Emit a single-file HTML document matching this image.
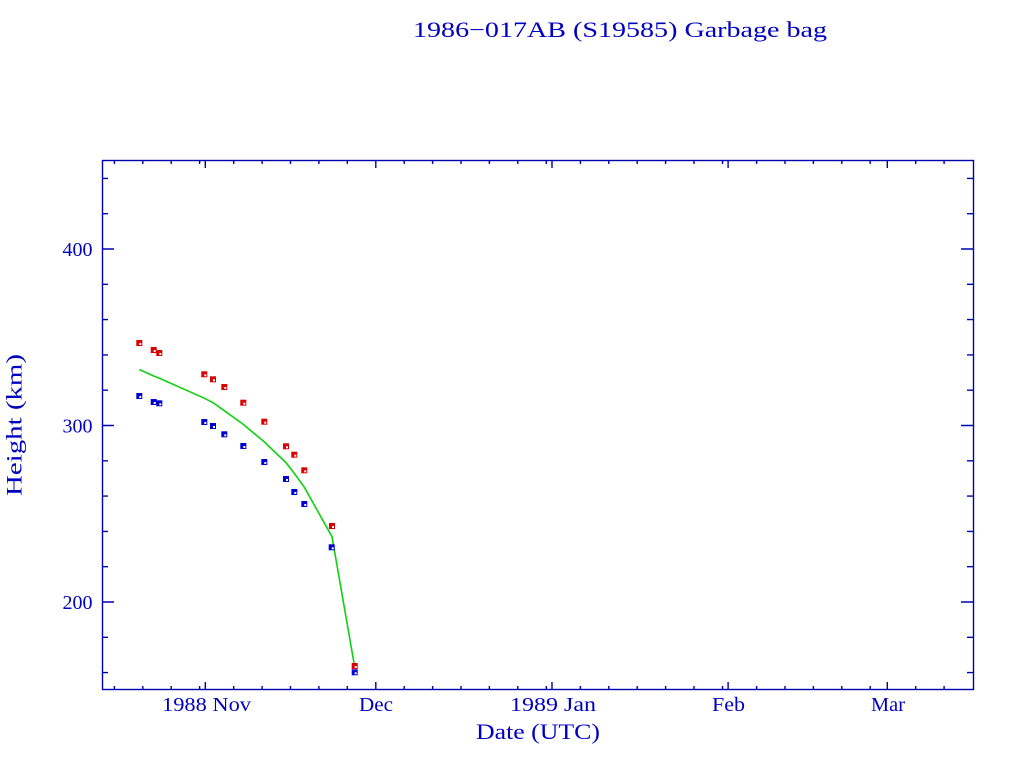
<!DOCTYPE html>
<html><head><meta charset="utf-8"><style>
html,body{margin:0;padding:0;background:#fff;}
svg{display:block;}
text{font-family:"Liberation Serif",serif;fill:#0000c0;}
</style></head><body>
<svg width="1024" height="768" viewBox="0 0 1024 768" xmlns="http://www.w3.org/2000/svg">
<rect width="1024" height="768" fill="#fff"/>
<text x="413" y="37" font-size="22" textLength="414" lengthAdjust="spacingAndGlyphs">1986−017AB (S19585) Garbage bag</text>

<g stroke="#0000b0" stroke-width="1.4" fill="none">
<rect x="102.5" y="160.5" width="871" height="529"/>
<path d="
M102 178.4h6M102 213.7h6M102 249h12M102 284.3h6M102 319.6h6M102 354.9h6M102 390.2h6M102 425.5h12M102 460.8h6M102 496.1h6M102 531.4h6M102 566.7h6M102 602h12M102 637.3h6M102 672.6h6
M973 178.4h-6M973 213.7h-6M973 249h-12M973 284.3h-6M973 319.6h-6M973 354.9h-6M973 390.2h-6M973 425.5h-12M973 460.8h-6M973 496.1h-6M973 531.4h-6M973 566.7h-6M973 602h-12M973 637.3h-6M973 672.6h-6
"/>
<path d="
M114.4 690v-4M142.8 690v-4M171.2 690v-4M199.6 690v-4M205.3 690v-8M233.7 690v-4M262.1 690v-4M290.5 690v-4M318.9 690v-4M347.3 690v-4M375.8 690v-8M404.2 690v-4M432.6 690v-4M461.0 690v-4M489.4 690v-4M517.8 690v-4M546.3 690v-4M552.0 690v-8M580.4 690v-4M608.8 690v-4M637.2 690v-4M665.6 690v-4M694.0 690v-4M722.5 690v-4M728.1 690v-8M756.6 690v-4M785.0 690v-4M813.4 690v-4M841.8 690v-4M870.2 690v-4M887.3 690v-8M915.7 690v-4M944.1 690v-4
M114.4 160v4M142.8 160v4M171.2 160v4M199.6 160v4M205.3 160v8M233.7 160v4M262.1 160v4M290.5 160v4M318.9 160v4M347.3 160v4M375.8 160v8M404.2 160v4M432.6 160v4M461.0 160v4M489.4 160v4M517.8 160v4M546.3 160v4M552.0 160v8M580.4 160v4M608.8 160v4M637.2 160v4M665.6 160v4M694.0 160v4M722.5 160v4M728.1 160v8M756.6 160v4M785.0 160v4M813.4 160v4M841.8 160v4M870.2 160v4M887.3 160v8M915.7 160v4M944.1 160v4
"/>
</g>

<g font-size="20">
<text x="92.5" y="256" text-anchor="end">400</text>
<text x="92.5" y="432.5" text-anchor="end">300</text>
<text x="92.5" y="609" text-anchor="end">200</text>
<text x="162" y="711" textLength="89" lengthAdjust="spacingAndGlyphs">1988 Nov</text>
<text x="359" y="711" textLength="34" lengthAdjust="spacingAndGlyphs">Dec</text>
<text x="510" y="711" textLength="86" lengthAdjust="spacingAndGlyphs">1989 Jan</text>
<text x="712" y="711" textLength="33" lengthAdjust="spacingAndGlyphs">Feb</text>
<text x="871" y="711" textLength="34" lengthAdjust="spacingAndGlyphs">Mar</text>
</g>
<text x="476" y="739" font-size="22" textLength="124" lengthAdjust="spacingAndGlyphs">Date (UTC)</text>
<text transform="translate(21.5,496) rotate(-90)" x="0" y="0" font-size="22" textLength="142" lengthAdjust="spacingAndGlyphs">Height (km)</text>

<polyline fill="none" stroke="#10d010" stroke-width="1.6" points="139.3,369.5 153.7,376 159.3,378.2 204.3,398.2 213,402.7 224.3,410.7 243.3,424.4 264.3,441.9 286,462.7 294.3,473.4 304.3,487.2 332,536.7 354.7,667"/>

<g fill="#dd0000">
<rect x="136.3" y="340" width="6" height="6"/>
<rect x="150.7" y="347" width="6" height="6"/>
<rect x="156.3" y="350" width="6" height="6"/>
<rect x="201.3" y="371.3" width="6" height="6"/>
<rect x="210" y="376.3" width="6" height="6"/>
<rect x="221.3" y="384" width="6" height="6"/>
<rect x="240.3" y="399.7" width="6" height="6"/>
<rect x="261.3" y="418.7" width="6" height="6"/>
<rect x="283" y="443.3" width="6" height="6"/>
<rect x="291.3" y="451.7" width="6" height="6"/>
<rect x="301.3" y="467.3" width="6" height="6"/>
<rect x="329" y="523" width="6" height="6"/>
<rect x="351.7" y="663" width="6" height="6"/>
</g>
<g fill="#0000d0">
<rect x="136.3" y="393" width="6" height="6"/>
<rect x="150.7" y="399" width="6" height="6"/>
<rect x="156.3" y="400.3" width="6" height="6"/>
<rect x="201.3" y="419" width="6" height="6"/>
<rect x="210" y="423" width="6" height="6"/>
<rect x="221.3" y="431.3" width="6" height="6"/>
<rect x="240.3" y="443" width="6" height="6"/>
<rect x="261.3" y="459" width="6" height="6"/>
<rect x="283" y="476" width="6" height="6"/>
<rect x="291.3" y="489" width="6" height="6"/>
<rect x="301.3" y="501" width="6" height="6"/>
<rect x="328.7" y="544.3" width="6" height="6"/>
<rect x="351.7" y="669.3" width="6" height="6"/>
</g>
<g fill="#fff">
<rect x="139.3" y="343" width="2" height="2"/>
<rect x="153.7" y="350" width="2" height="2"/>
<rect x="159.3" y="353" width="2" height="2"/>
<rect x="204.3" y="374.3" width="2" height="2"/>
<rect x="213" y="379.3" width="2" height="2"/>
<rect x="224.3" y="387" width="2" height="2"/>
<rect x="243.3" y="402.7" width="2" height="2"/>
<rect x="264.3" y="421.7" width="2" height="2"/>
<rect x="286" y="446.3" width="2" height="2"/>
<rect x="294.3" y="454.7" width="2" height="2"/>
<rect x="304.3" y="470.3" width="2" height="2"/>
<rect x="332" y="526" width="2" height="2"/>
<rect x="354.7" y="666" width="2" height="2"/>
<rect x="139.3" y="396" width="2" height="2"/>
<rect x="153.7" y="402" width="2" height="2"/>
<rect x="159.3" y="403.3" width="2" height="2"/>
<rect x="204.3" y="422" width="2" height="2"/>
<rect x="213" y="426" width="2" height="2"/>
<rect x="224.3" y="434.3" width="2" height="2"/>
<rect x="243.3" y="446" width="2" height="2"/>
<rect x="264.3" y="462" width="2" height="2"/>
<rect x="286" y="479" width="2" height="2"/>
<rect x="294.3" y="492" width="2" height="2"/>
<rect x="304.3" y="504" width="2" height="2"/>
<rect x="331.7" y="547.3" width="2" height="2"/>
<rect x="354.7" y="672.3" width="2" height="2"/>
</g>
</svg>
</body></html>
